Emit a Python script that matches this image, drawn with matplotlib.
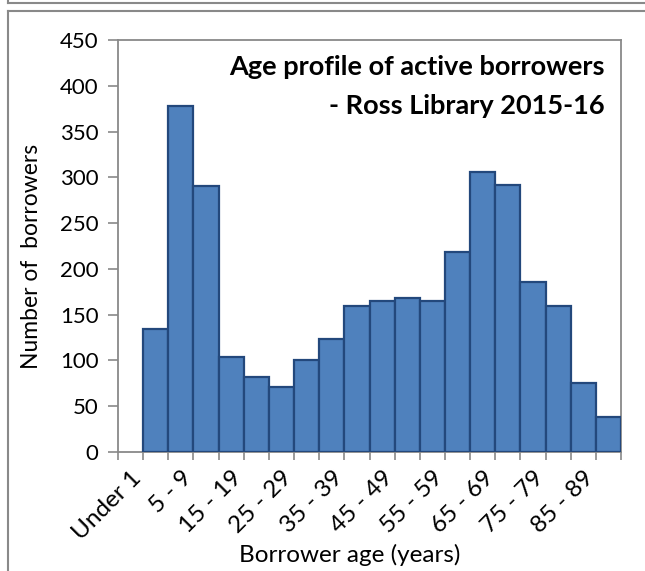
import numpy as np
import matplotlib
matplotlib.use("Agg")
import matplotlib.pyplot as plt
from matplotlib.lines import Line2D

categories = ["Under 1", "1 - 4", "5 - 9", "10 - 14", "15 - 19", "20 - 24",
              "25 - 29", "30 - 34", "35 - 39", "40 - 44", "45 - 49", "50 - 54",
              "55 - 59", "60 - 64", "65 - 69", "70 - 74", "75 - 79", "80 - 84",
              "85 - 89", "90+"]
values = [0, 134, 378, 290, 104, 82, 71, 100, 123, 159, 165, 168, 165,
          218, 306, 292, 186, 160, 75, 38]
y_ticks = [0, 50, 100, 150, 200, 250, 300, 350, 400, 450]
title_lines = ["Age profile of active borrowers", "- Ross Library 2015-16"]
x_label = "Borrower age (years)"
y_label = "Number of  borrowers"

plt.rcParams['font.family'] = ['Lato', 'DejaVu Sans']

W, H = 645, 571
fig = plt.figure(figsize=(W / 100, H / 100), dpi=100)


def fx(px):
    return px / W


def fy(py):
    return 1 - py / H


GRAY = '#898989'
ax = fig.add_axes([fx(118), fy(452), fx(621) - fx(118), fy(40) - fy(452)])
x = np.arange(len(categories))
vals = np.array(values, dtype=float)
mask = vals > 0
ax.bar(x[mask], vals[mask], width=1.0, color='#4F81BD', edgecolor='#23487C',
       linewidth=1.6, zorder=3)
ax.set_xlim(-0.5, len(categories) - 0.5)
ax.set_ylim(y_ticks[0], y_ticks[-1])
ax.set_yticks(y_ticks)
ax.set_xticks(x[::2])
ax.set_xticklabels(categories[::2], rotation=45, ha='right',
                   rotation_mode='anchor', fontsize=17.5)
ax.set_xticks(np.arange(-0.5, len(categories)), minor=True)
ax.tick_params(axis='x', which='major', length=0, pad=11)
ax.tick_params(axis='x', which='minor', length=6, color=GRAY, width=1.2,
               direction='out')
ax.tick_params(axis='y', which='major', length=7, color=GRAY, width=1.2,
               labelsize=16, pad=7)
for sp in ax.spines.values():
    sp.set_color(GRAY)
    sp.set_linewidth(1.3)

fig.text(fx(605), fy(75), title_lines[0], ha='right', va='baseline',
         fontsize=19.5, fontweight='bold')
fig.text(fx(605), fy(114), title_lines[1], ha='right', va='baseline',
         fontsize=19.5, fontweight='bold')

fig.text(fx(32), fy(256), y_label, rotation=90, ha='center', va='center',
         fontsize=16.5)
fig.text(fx(350), fy(555), x_label, ha='center', va='center', fontsize=17.5)

# outer frames
fig.add_artist(Line2D([fx(8), 1.0], [fy(11), fy(11)], color=GRAY, lw=1.5,
                      transform=fig.transFigure))
fig.add_artist(Line2D([fx(8), fx(8)], [fy(11), 0.0], color=GRAY, lw=1.5,
                      transform=fig.transFigure))
fig.add_artist(Line2D([fx(8), 1.0], [fy(3), fy(3)], color=GRAY, lw=1.5,
                      transform=fig.transFigure))
fig.add_artist(Line2D([fx(8), fx(8)], [1.0, fy(3)], color=GRAY, lw=1.5,
                      transform=fig.transFigure))

fig.savefig("out.png", dpi=100)
